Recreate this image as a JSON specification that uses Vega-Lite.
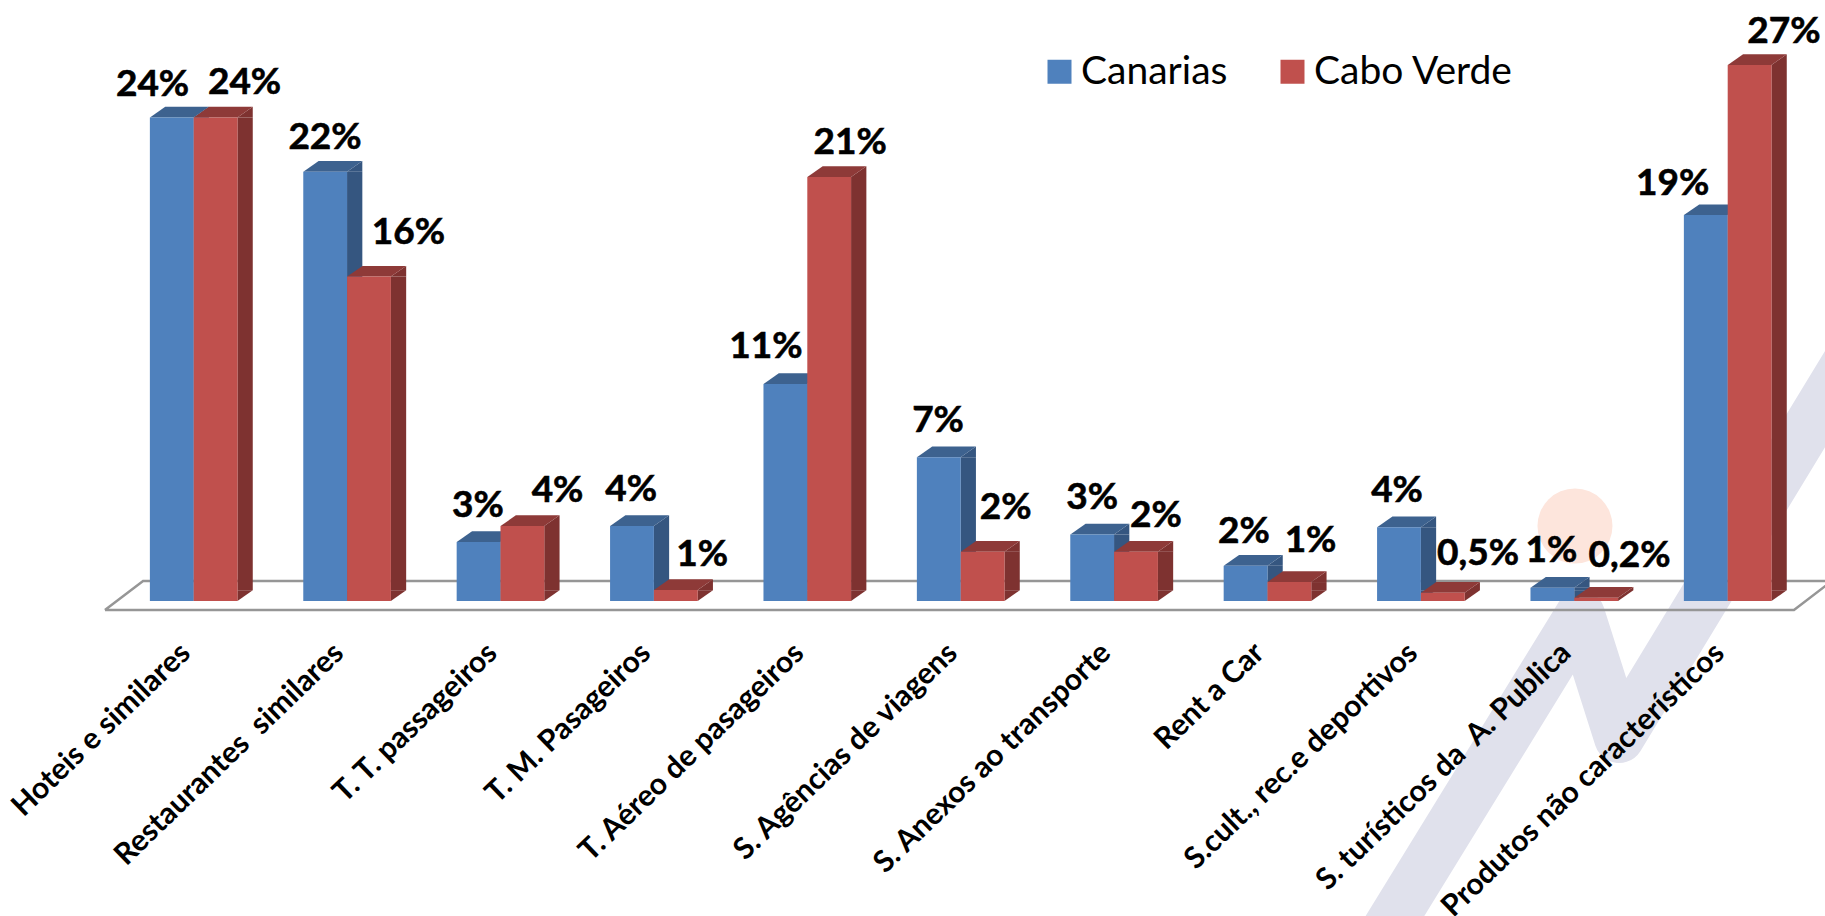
{"$schema":"https://vega.github.io/schema/vega-lite/v6.json","width":1825,"height":916,"padding":0,"autosize":"none","background":"white","config":{"view":{"stroke":null}},
"datasets":{"bars":[
{"cat":"Hoteis e similares","series":"Canarias","value":24.0,"label":"24%","lx":8.36,"ly":25.68},
{"cat":"Hoteis e similares","series":"Cabo Verde","value":24.0,"label":"24%","lx":13.40,"ly":25.76},
{"cat":"Restaurantes \u00a0similares","series":"Canarias","value":21.3,"label":"22%","lx":17.81,"ly":23.05},
{"cat":"Restaurantes \u00a0similares","series":"Cabo Verde","value":16.1,"label":"16%","lx":22.38,"ly":18.33},
{"cat":"T. T. passageiros","series":"Canarias","value":2.93,"label":"3%","lx":26.19,"ly":4.76},
{"cat":"T. T. passageiros","series":"Cabo Verde","value":3.72,"label":"4%","lx":30.55,"ly":5.51},
{"cat":"T. M. Pasageiros","series":"Canarias","value":3.72,"label":"4%","lx":34.58,"ly":5.56},
{"cat":"T. M. Pasageiros","series":"Cabo Verde","value":0.55,"label":"1%","lx":38.47,"ly":2.33},
{"cat":"T. Aéreo de pasageiros","series":"Canarias","value":10.77,"label":"11%","lx":41.97,"ly":12.67},
{"cat":"T. Aéreo de pasageiros","series":"Cabo Verde","value":21.04,"label":"21%","lx":46.58,"ly":22.78},
{"cat":"S. Agências de viagens","series":"Canarias","value":7.13,"label":"7%","lx":51.40,"ly":8.98},
{"cat":"S. Agências de viagens","series":"Cabo Verde","value":2.45,"label":"2%","lx":55.10,"ly":4.64},
{"cat":"S. Anexos ao transporte","series":"Canarias","value":3.3,"label":"3%","lx":59.84,"ly":5.16},
{"cat":"S. Anexos ao transporte","series":"Cabo Verde","value":2.45,"label":"2%","lx":63.34,"ly":4.29},
{"cat":"Rent a Car","series":"Canarias","value":1.75,"label":"2%","lx":68.16,"ly":3.47},
{"cat":"Rent a Car","series":"Cabo Verde","value":0.94,"label":"1%","lx":71.81,"ly":3.03},
{"cat":"S.cult., rec.e deportivos","series":"Canarias","value":3.66,"label":"4%","lx":76.55,"ly":5.51},
{"cat":"S.cult., rec.e deportivos","series":"Cabo Verde","value":0.41,"label":"0,5%","lx":80.99,"ly":2.38},
{"cat":"S. turísticos da \u00a0A. Publica","series":"Canarias","value":0.66,"label":"1%","lx":85.01,"ly":2.53},
{"cat":"S. turísticos da \u00a0A. Publica","series":"Cabo Verde","value":0.16,"label":"0,2%","lx":89.29,"ly":2.28},
{"cat":"Produtos não característicos","series":"Canarias","value":19.15,"label":"19%","lx":91.65,"ly":20.76},
{"cat":"Produtos não característicos","series":"Cabo Verde","value":26.6,"label":"27%","lx":97.75,"ly":28.29}],
"mark":[{"o":1,"px":75.29,"py":-17.32},{"o":2,"px":86.58,"py":-0.695},{"o":3,"px":88.72,"py":-6.80},{"o":4,"px":103.3,"py":14.94}],
"circle":[{"px":86.3,"py":3.722}],
"floor":[{"o":1,"px":5.75,"py":-0.447},{"o":2,"px":98.3,"py":-0.447},{"o":3,"px":100.38,"py":0.993},{"o":4,"px":7.84,"py":0.993},{"o":5,"px":5.75,"py":-0.447}]},
"resolve":{"scale":{"x":"independent"}},
"layer":[
{"encoding":{"x":{"field":"px","type":"quantitative","scale":{"domain":[0,100],"range":[0,1825]},"axis":null},"y":{"field":"py","type":"quantitative","scale":{"domain":[-15.633,29.826],"range":[916,0]},"axis":null}},
"layer":[
{"data":{"name":"mark"},"mark":{"type":"line","stroke":"#E0E1EC","strokeWidth":50,"strokeJoin":"round","strokeCap":"round"},"encoding":{"order":{"field":"o"}}},
{"data":{"name":"circle"},"mark":{"type":"point","filled":true,"shape":"circle","size":5625,"color":"#FDE5DC","opacity":1}},
{"data":{"name":"floor"},"mark":{"type":"line","stroke":"#969696","strokeWidth":2.5},"encoding":{"order":{"field":"o"}}}
]},
{"data":{"name":"bars"},"transform":[{"filter":"datum.series==='Canarias'&&datum.value>=0.53"}],"mark":{"type":"bar","color":"#355680","width":15.3},
"encoding":{"x":{"field":"cat","type":"nominal","scale":{"domain":["Hoteis e similares","Restaurantes \u00a0similares","T. T. passageiros","T. M. Pasageiros","T. Aéreo de pasageiros","S. Agências de viagens","S. Anexos ao transporte","Rent a Car","S.cult., rec.e deportivos","S. turísticos da \u00a0A. Publica","Produtos não característicos"],"range":[146.5,1833.9],"paddingInner":0,"paddingOuter":0},"axis":null},
"xOffset":{"field":"series","type":"nominal","scale":{"domain":["Canarias","Cabo Verde"],"paddingInner":0,"paddingOuter":0.75}},
"y":{"field":"value","type":"quantitative","scale":{"domain":[-15.633,29.826],"range":[916,0]},"axis":null},"y2":{"datum":0.53}}},
{"data":{"name":"bars"},
"encoding":{"x":{"field":"cat","type":"nominal","scale":{"domain":["Hoteis e similares","Restaurantes \u00a0similares","T. T. passageiros","T. M. Pasageiros","T. Aéreo de pasageiros","S. Agências de viagens","S. Anexos ao transporte","Rent a Car","S.cult., rec.e deportivos","S. turísticos da \u00a0A. Publica","Produtos não característicos"],"range":[117,1804.4],"paddingInner":0,"paddingOuter":0},"axis":null},
"xOffset":{"field":"series","type":"nominal","scale":{"domain":["Canarias","Cabo Verde"],"paddingInner":0,"paddingOuter":0.75}},
"y":{"field":"value","type":"quantitative","scale":{"domain":[-15.633,29.826],"range":[916,0]},"axis":null}},
"layer":[
{"transform":[{"filter":"datum.series==='Canarias'"}],"mark":{"type":"point","filled":true,"opacity":1,"size":4,"color":"#355680","strokeWidth":0,"shape":"M21.85,0L37.15,-10.7L37.15,0Z"}},
{"transform":[{"filter":"datum.series==='Canarias'&&datum.value>=0.53"}],"mark":{"type":"point","filled":true,"opacity":1,"size":4,"color":"#355680","strokeWidth":0,"shape":"M21.85,0L37.15,0L21.85,10.7Z"},"encoding":{"y":{"datum":0.53}}},
{"transform":[{"filter":"datum.series==='Canarias'"}],"mark":{"type":"point","filled":true,"opacity":1,"size":4,"color":"#3D628F","strokeWidth":0,"shape":"M-21.85,0L21.85,0L37.15,-10.7L-6.55,-10.7Z"}}
]},
{"data":{"name":"bars"},"transform":[{"filter":"datum.series==='Cabo Verde'&&datum.value>=0.53"}],"mark":{"type":"bar","color":"#7E3230","width":15.3},
"encoding":{"x":{"field":"cat","type":"nominal","scale":{"domain":["Hoteis e similares","Restaurantes \u00a0similares","T. T. passageiros","T. M. Pasageiros","T. Aéreo de pasageiros","S. Agências de viagens","S. Anexos ao transporte","Rent a Car","S.cult., rec.e deportivos","S. turísticos da \u00a0A. Publica","Produtos não característicos"],"range":[146.5,1833.9],"paddingInner":0,"paddingOuter":0},"axis":null},
"xOffset":{"field":"series","type":"nominal","scale":{"domain":["Canarias","Cabo Verde"],"paddingInner":0,"paddingOuter":0.75}},
"y":{"field":"value","type":"quantitative","scale":{"domain":[-15.633,29.826],"range":[916,0]},"axis":null},"y2":{"datum":0.53}}},
{"data":{"name":"bars"},
"encoding":{"x":{"field":"cat","type":"nominal","scale":{"domain":["Hoteis e similares","Restaurantes \u00a0similares","T. T. passageiros","T. M. Pasageiros","T. Aéreo de pasageiros","S. Agências de viagens","S. Anexos ao transporte","Rent a Car","S.cult., rec.e deportivos","S. turísticos da \u00a0A. Publica","Produtos não característicos"],"range":[117,1804.4],"paddingInner":0,"paddingOuter":0},"axis":{"orient":"bottom","zindex":1,"offset":-273,"title":null,"domain":false,"ticks":false,"labelAngle":-44,"labelAlign":"right","labelBaseline":"middle","labelFont":"Lato","labelFontWeight":"bold","labelFontSize":30,"labelColor":"#000000","labelPadding":5,"labelOffset":-8,"labelOverlap":false,"labelLimit":600,"labelBound":false,"labelFlush":false}},
"xOffset":{"field":"series","type":"nominal","scale":{"domain":["Canarias","Cabo Verde"],"paddingInner":0,"paddingOuter":0.75}},
"y":{"field":"value","type":"quantitative","scale":{"domain":[-15.633,29.826],"range":[916,0]},"axis":null}},
"layer":[
{"transform":[{"filter":"datum.series==='Cabo Verde'&&datum.value>=0.53"}],"mark":{"type":"point","filled":true,"opacity":1,"size":4,"color":"#7E3230","strokeWidth":0,"shape":"M21.85,0L37.15,-10.7L37.15,0Z"}},
{"transform":[{"filter":"datum.series==='Cabo Verde'&&datum.value>=0.53"}],"mark":{"type":"point","filled":true,"opacity":1,"size":4,"color":"#7E3230","strokeWidth":0,"shape":"M21.85,0L37.15,0L21.85,10.7Z"},"encoding":{"y":{"datum":0.53}}},
{"transform":[{"filter":"datum.series==='Cabo Verde'&&datum.value===0.41"}],"mark":{"type":"point","filled":true,"opacity":1,"size":4,"color":"#7E3230","strokeWidth":0,"shape":"M21.85,0L37.15,-10.7L37.15,-2.4L21.85,8.3Z"}},
{"transform":[{"filter":"datum.series==='Cabo Verde'&&datum.value===0.16"}],"mark":{"type":"point","filled":true,"opacity":1,"size":4,"color":"#7E3230","strokeWidth":0,"shape":"M21.85,0L37.15,-10.7L37.15,-7.5L21.85,3.2Z"}},
{"transform":[{"filter":"datum.series==='Cabo Verde'"}],"mark":{"type":"point","filled":true,"opacity":1,"size":4,"color":"#8E3A38","strokeWidth":0,"shape":"M-21.85,0L21.85,0L37.15,-10.7L-6.55,-10.7Z"}},
{"mark":{"type":"bar"},"encoding":{
"color":{"field":"series","type":"nominal","scale":{"domain":["Canarias","Cabo Verde"],"range":["#4F81BD","#C0504D"]},
"legend":{"orient":"none","legendX":1040,"legendY":52,"direction":"horizontal","title":null,"symbolType":"square","symbolSize":576,"symbolStrokeWidth":0,"symbolOpacity":1,"labelFont":"Lato","labelFontSize":39,"labelColor":"#000000","labelOffset":2,"columnPadding":45,"labelLimit":400}}}}
]},
{"data":{"name":"bars"},"mark":{"type":"text","font":"Lato","fontWeight":"bold","fontSize":37,"color":"#000000","stroke":"#000000","strokeWidth":0.6,"align":"center","baseline":"middle","dy":1},
"encoding":{"x":{"field":"lx","type":"quantitative","scale":{"domain":[0,100],"range":[0,1825]},"axis":null},"y":{"field":"ly","type":"quantitative","scale":{"domain":[-15.633,29.826],"range":[916,0]},"axis":null},"text":{"field":"label","type":"nominal"}}}
]}
